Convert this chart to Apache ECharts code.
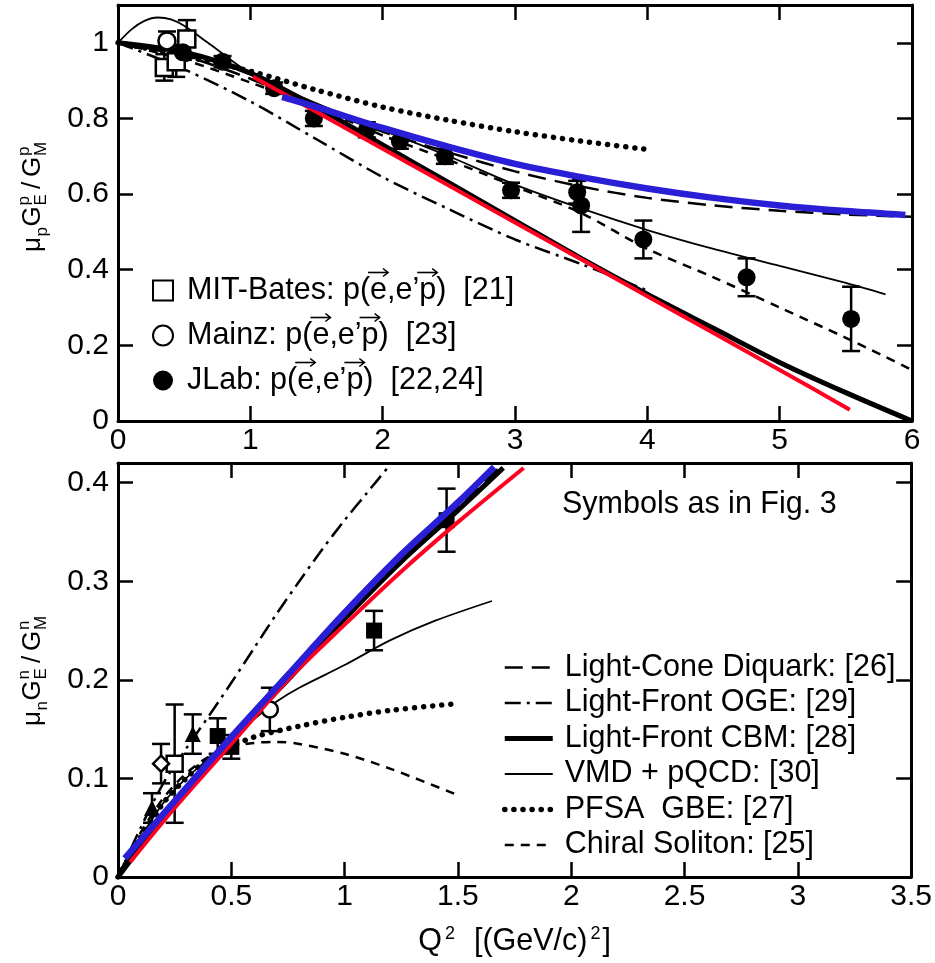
<!DOCTYPE html>
<html>
<head>
<meta charset="utf-8">
<script src="https://cdn.jsdelivr.net/npm/echarts@6/dist/echarts.min.js"></script>
<style>
  html, body { margin: 0; padding: 0; background: #fff; }
  #chart { width: 935px; height: 963px; }
</style>
</head>
<body>
<div id="chart"></div>
<script>
// ---- proton panel (top): mu_p GE/GM vs Q^2 ----
var pLcd    = [[0,1.0],[0.5,0.965],[1,0.905],[1.5,0.83],[2,0.765],[2.5,0.71],[3,0.66],[3.5,0.62],[4,0.59],[4.5,0.57],[5,0.556],[5.5,0.546],[6,0.54]];
var pOge    = [[0,1.0],[0.5,0.93],[1,0.845],[1.5,0.745],[2,0.645],[2.5,0.56],[3,0.48],[3.5,0.415],[4,0.345]];
var pCbm    = [[0,1.0],[0.5,0.975],[1,0.92],[1.5,0.83],[2,0.73],[2.5,0.63],[3,0.53],[3.5,0.43],[4,0.335],[4.5,0.245],[5,0.155],[5.5,0.075],[6,0.0]];
var pVmd    = [[0,1.0],[0.1,1.035],[0.2,1.058],[0.3,1.067],[0.4,1.062],[0.5,1.045],[0.7,0.995],[1,0.92],[1.5,0.84],[2,0.77],[2.5,0.7],[3,0.625],[3.5,0.562],[4,0.505],[4.5,0.455],[5,0.41],[5.5,0.365],[5.8,0.335]];
var pPfsa   = [[0,1.0],[0.5,0.965],[1,0.925],[1.5,0.875],[2,0.83],[2.5,0.795],[3,0.765],[3.5,0.74],[4,0.718]];
var pChiral = [[0,1.0],[0.5,0.955],[1,0.895],[1.5,0.83],[2,0.755],[2.5,0.69],[3,0.62],[3.5,0.55],[4,0.455],[4.5,0.38],[5,0.3],[5.5,0.22],[6,0.135]];
var pBlue   = [[1.24,0.857],[1.5,0.83],[2,0.775],[2.5,0.725],[3,0.68],[3.5,0.645],[4,0.615],[4.5,0.59],[5,0.57],[5.5,0.555],[5.95,0.545]];
var pRed    = [[1.02,0.91],[2,0.72],[3,0.525],[4,0.33],[5,0.135],[5.53,0.03]];
// data points: [Q2, ratio, error]
var pBates  = [[0.35,0.935,0.035],[0.44,0.95,0.04],[0.52,1.01,0.05]];
var pMainz  = [[0.37,1.005,0.025]];
var pJlab   = [[0.49,0.975,0.02],[0.79,0.95,0.015],[1.18,0.88,0.015],[1.48,0.8,0.02],[1.88,0.77,0.02],[2.13,0.74,0.02],[2.47,0.7,0.02],[2.97,0.61,0.02],[3.47,0.605,0.03],[3.5,0.57,0.07],[3.97,0.48,0.05],[4.75,0.38,0.05],[5.54,0.27,0.085]];

// ---- neutron panel (bottom): mu_n GE/GM vs Q^2 ----
var nLcd    = [[0,0],[0.25,0.075],[0.5,0.14],[0.75,0.203],[1,0.265],[1.25,0.322],[1.5,0.375],[1.68,0.415]];
var nOge    = [[0,0],[0.1,0.05],[0.2,0.095],[0.3,0.13],[0.4,0.163],[0.5,0.197],[0.6,0.232],[0.7,0.267],[0.8,0.3],[0.9,0.332],[1,0.362],[1.1,0.39],[1.2,0.418]];
var nCbm    = [[0,0],[0.25,0.075],[0.5,0.14],[0.75,0.2],[1,0.262],[1.25,0.32],[1.5,0.372],[1.7,0.415]];
var nVmd    = [[0,0],[0.1,0.04],[0.2,0.075],[0.3,0.1],[0.4,0.12],[0.5,0.14],[0.6,0.16],[0.7,0.178],[0.8,0.192],[1,0.215],[1.2,0.24],[1.4,0.26],[1.65,0.28]];
var nPfsa   = [[0,0],[0.1,0.04],[0.2,0.075],[0.3,0.1],[0.4,0.12],[0.5,0.132],[0.6,0.142],[0.8,0.153],[1,0.162],[1.2,0.169],[1.5,0.176]];
var nChiral = [[0,0],[0.1,0.045],[0.2,0.08],[0.3,0.105],[0.4,0.122],[0.5,0.132],[0.6,0.136],[0.7,0.137],[0.8,0.135],[1,0.125],[1.2,0.11],[1.5,0.083]];
var nBlue   = [[0.03,0.019],[0.25,0.077],[0.5,0.142],[0.75,0.205],[1,0.268],[1.25,0.327],[1.5,0.38],[1.66,0.416]];
var nRed    = [[0.053,0.015],[0.25,0.07],[0.5,0.135],[0.75,0.2],[1,0.256],[1.25,0.31],[1.5,0.36],[1.79,0.415]];
var nTriFill = [[0.15,0.07,0.015],[0.33,0.145,0.02]];
var nSqOpen  = [[0.25,0.115,0.06]];
var nDiaOpen = [[0.19,0.115,0.02]];
var nSqFill  = [[0.44,0.143,0.018],[0.5,0.132,0.012],[1.13,0.25,0.02],[1.45,0.362,0.032]];
var nCirOpen = [[0.67,0.17,0.022]];

var FONT = '"Liberation Sans", Arial, sans-serif';
var TXT = 30.5;
var LCD = 'Light-Cone Diquark: [26]';
var OGE = 'Light-Front OGE: [29]';
var CBM = 'Light-Front CBM: [28]';
var VMD = 'VMD + pQCD: [30]';
var PFSA = 'PFSA  GBE: [27]';
var CHI = 'Chiral Soliton: [25]';
var BATES = 'MIT-Bates: p(e,e\u2019p)  [21]';
var MAINZ = 'Mainz: p(e,e\u2019p)  [23]';
var JLAB = 'JLab: p(e,e\u2019p)  [22,24]';

var styles = {};
styles[LCD]  = { type: [18, 9], width: 2.5 };
styles[OGE]  = { type: [16, 6, 3, 6], width: 2.5 };
styles[CBM]  = { type: 'solid', width: 5 };
styles[VMD]  = { type: 'solid', width: 1.8 };
styles[PFSA] = { type: [0.1, 9], width: 5.5, cap: 'round' };
styles[CHI]  = { type: [9, 7], width: 2.5 };

function curve(name, data, ax) {
  var s = styles[name];
  return {
    type: 'line', name: name, data: data, xAxisIndex: ax, yAxisIndex: ax,
    symbol: 'none', smooth: 0.3, z: 2, silent: true,
    itemStyle: { color: '#000' },
    lineStyle: { color: '#000', width: s.width, type: s.type, cap: s.cap || 'butt' }
  };
}

function fit(name, data, ax, color, width, z) {
  return {
    type: 'line', name: name, data: data, xAxisIndex: ax, yAxisIndex: ax,
    symbol: 'none', smooth: 0.3, z: z, silent: true,
    lineStyle: { color: color, width: width, cap: 'butt' }
  };
}

function points(name, data, ax, symbol, size, open) {
  return {
    type: 'scatter', name: name, xAxisIndex: ax, yAxisIndex: ax, z: 5,
    data: data.map(function (d) { return [d[0], d[1]]; }),
    symbol: symbol, symbolSize: size, silent: true,
    itemStyle: open ? { color: '#fff', borderColor: '#000', borderWidth: 2.5, opacity: 1 }
                    : { color: '#000', borderWidth: 0, opacity: 1 }
  };
}

function errBars(data, ax) {
  return {
    type: 'custom', xAxisIndex: ax, yAxisIndex: ax, z: 4, silent: true,
    data: data.map(function (d) { return [d[0], d[1] - d[2], d[1] + d[2]]; }),
    encode: { x: 0, y: [1, 2] },
    renderItem: function (params, api) {
      var lo = api.coord([api.value(0), api.value(1)]);
      var hi = api.coord([api.value(0), api.value(2)]);
      var w = 9;
      var st = { stroke: '#000', lineWidth: 2.5 };
      return { type: 'group', children: [
        { type: 'line', shape: { x1: lo[0], y1: lo[1], x2: hi[0], y2: hi[1] }, style: st },
        { type: 'line', shape: { x1: lo[0] - w, y1: lo[1], x2: lo[0] + w, y2: lo[1] }, style: st },
        { type: 'line', shape: { x1: hi[0] - w, y1: hi[1], x2: hi[0] + w, y2: hi[1] }, style: st }
      ]};
    }
  };
}

function axis(grid, pos, min, max, step, labels) {
  return {
    type: 'value', gridIndex: grid, position: pos, min: min, max: max, interval: step,
    axisLine: { show: true, onZero: false, lineStyle: { color: '#000', width: 3 } },
    axisTick: { show: true, inside: true, length: 15, lineStyle: { color: '#000', width: 2.5 } },
    axisLabel: { show: labels, margin: (pos === 'left' ? 9 : 5), color: '#000', fontFamily: FONT, fontSize: 30, showMaxLabel: (pos === 'bottom') },
    splitLine: { show: false }
  };
}

function yTitle(cx, cy, q) {
  var f = '26px ' + FONT, s = '17px ' + FONT;
  function t(x, y, text, font) {
    return { type: 'text', x: x, y: y, style: { text: text, font: font, fill: '#000', textVerticalAlign: 'middle', textAlign: 'left' } };
  }
  return {
    type: 'group', x: cx, y: cy, rotation: Math.PI / 2,
    children: [
      t(-55, 0, '\u03BC', f), t(-39.5, 9, q, s),
      t(-29.5, 0, 'G', f), t(-8.5, 8, 'E', s), t(-8.5, -9, q, s),
      t(8, 0, '/', f),
      t(20, 0, 'G', f), t(41, 8, 'M', s), t(41, -9, q, s)
    ]
  };
}

// polarisation arrows over "e" and "p" in the top legend labels
var LEG_X = 186, LEG_ROWS = [290.5, 335.5, 380.5];
function legendArrows() {
  var ctx = document.createElement('canvas').getContext('2d');
  ctx.font = TXT + 'px ' + FONT;
  var out = [];
  [BATES, MAINZ, JLAB].forEach(function (label, i) {
    var cy = LEG_ROWS[i] - 18;
    [label.indexOf('(') + 1, label.indexOf('\u2019') + 1].forEach(function (k) {
      var x0 = LEG_X + ctx.measureText(label.slice(0, k)).width;
      var w = ctx.measureText(label.charAt(k)).width;
      var a = x0 - 1, b = x0 + w + 2;
      var st = { stroke: '#000', lineWidth: 1.6, fill: null };
      out.push({ type: 'polyline', silent: true, shape: { points: [[a, cy], [b, cy]] }, style: st });
      out.push({ type: 'polyline', silent: true, shape: { points: [[b - 5, cy - 4], [b, cy], [b - 5, cy + 4]] }, style: st });
    });
  });
  return out;
}

var xTop = axis(0, 'bottom', 0, 6, 1, true);
var xTopMirror = axis(0, 'top', 0, 6, 1, false);
var yTop = axis(0, 'left', 0, 1.1, 0.2, true);
var yTopMirror = axis(0, 'right', 0, 1.1, 0.2, false);
var xBot = axis(1, 'bottom', 0, 3.5, 0.5, true);
xBot.name = '{a|Q}{s|2}{a|  [(GeV/c)}{s|2}{a|]}';
xBot.nameLocation = 'middle';
xBot.nameGap = 48;
xBot.nameTextStyle = { rich: {
  a: { color: '#000', fontFamily: FONT, fontSize: TXT, lineHeight: 34 },
  s: { color: '#000', fontFamily: FONT, fontSize: 18, verticalAlign: 'top', padding: [0, 2, 0, 3] }
} };
var xBotMirror = axis(1, 'top', 0, 3.5, 0.5, false);
var yBot = axis(1, 'left', 0, 0.42, 0.1, true);
var yBotMirror = axis(1, 'right', 0, 0.42, 0.1, false);

var chart = echarts.init(document.getElementById('chart'), null, { renderer: 'canvas' });
chart.setOption({
  animation: false,
  backgroundColor: '#fff',
  grid: [
    { left: 118, top: 5, width: 794, height: 416 },
    { left: 118, top: 463, width: 794, height: 414 }
  ],
  xAxis: [xTop, xTopMirror, xBot, xBotMirror],
  yAxis: [yTop, yTopMirror, yBot, yBotMirror],
  legend: [
    {
      data: [BATES, MAINZ, JLAB], orient: 'vertical', left: 152, top: 275, padding: 0,
      itemWidth: 20, itemHeight: 20, itemGap: 14, selectedMode: false,
      textStyle: { color: '#000', fontFamily: FONT, fontSize: TXT, lineHeight: 31, padding: [0, 0, 0, 9] }
    },
    {
      data: [LCD, OGE, CBM, VMD, PFSA, CHI], orient: 'vertical', left: 502, top: 652, padding: 0,
      itemWidth: 48, itemHeight: 14, itemGap: 4.5, selectedMode: false,
      itemStyle: { opacity: 0 },
      lineStyle: { width: 'inherit', type: 'inherit', cap: 'inherit', color: '#000' },
      textStyle: { color: '#000', fontFamily: FONT, fontSize: TXT, lineHeight: 30, padding: [0, 0, 0, 7] }
    }
  ],
  graphic: [
    yTitle(33, 197, 'p'),
    yTitle(33, 671, 'n'),
    { type: 'text', left: 562, top: 489, style: { text: 'Symbols as in Fig. 3', font: TXT + 'px ' + FONT, fill: '#000' } }
  ].concat(legendArrows()),
  series: [
    curve(LCD, pLcd, 0), curve(OGE, pOge, 0), curve(CBM, pCbm, 0),
    curve(VMD, pVmd, 0), curve(PFSA, pPfsa, 0), curve(CHI, pChiral, 0),
    errBars(pBates, 0), errBars(pMainz, 0), errBars(pJlab, 0),
    points(BATES, pBates, 0, 'rect', 17, true),
    points(MAINZ, pMainz, 0, 'circle', 17, true),
    points(JLAB, pJlab, 0, 'circle', 18, false),
    fit('redP', pRed, 0, '#ff0022', 4, 6),
    fit('blueP', pBlue, 0, '#2a1fd6', 6.5, 7),

    curve(LCD, nLcd, 2), curve(OGE, nOge, 2), curve(CBM, nCbm, 2),
    curve(VMD, nVmd, 2), curve(PFSA, nPfsa, 2), curve(CHI, nChiral, 2),
    errBars(nTriFill, 2), errBars(nSqOpen, 2), errBars(nDiaOpen, 2), errBars(nSqFill, 2), errBars(nCirOpen, 2),
    points('triFill', nTriFill, 2, 'triangle', 16, false),
    points('sqOpen', nSqOpen, 2, 'rect', 16, true),
    points('diaOpen', nDiaOpen, 2, 'diamond', 16, true),
    points('sqFill', nSqFill, 2, 'rect', 16, false),
    points('cirOpen', nCirOpen, 2, 'circle', 16, true),
    fit('redN', nRed, 2, '#ff0022', 4, 6),
    fit('blueN', nBlue, 2, '#2a1fd6', 6.5, 7)
  ]
});
</script>
</body>
</html>
